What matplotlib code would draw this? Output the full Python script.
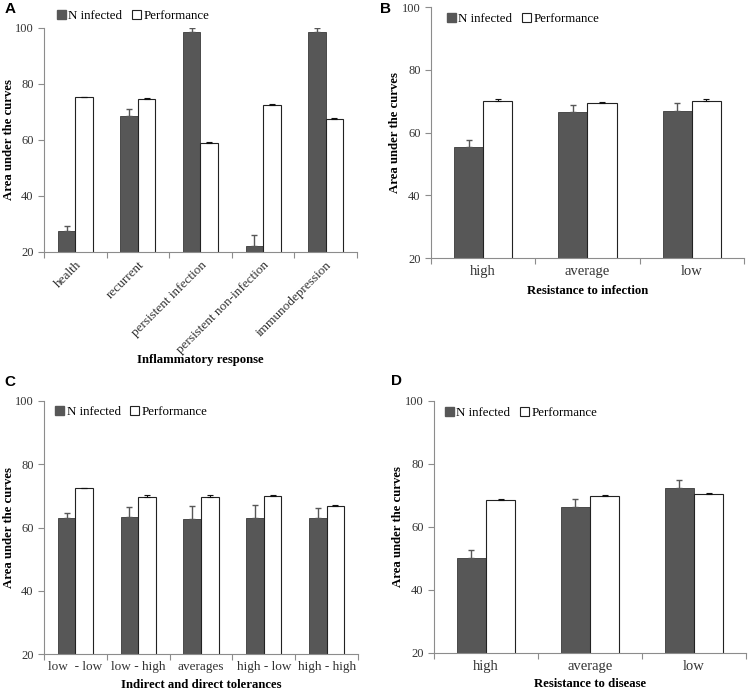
import matplotlib
matplotlib.use('Agg')
import matplotlib.pyplot as plt
import numpy as np
from matplotlib.patches import Patch

plt.rcParams['font.family'] = 'Liberation Serif'

# Painel A - resposta inflamatoria
cats_a = ['health', 'recurrent', 'persistent infection', 'persistent non-infection', 'immunodepression']
ninf_a = [27.6, 68.7, 98.4, 22.0, 98.4]
ninf_a_err = [1.8, 2.5, 1.5, 3.9, 1.5]
perf_a = [75.2, 74.8, 58.8, 72.5, 67.6]
perf_a_err = [0.2, 0.2, 0.4, 0.5, 0.15]

# Painel B - resistencia a infeccao
cats_b = ['high', 'average', 'low']
ninf_b = [55.3, 66.4, 67.0]
ninf_b_err = [2.3, 2.5, 2.5]
perf_b = [70.2, 69.4, 70.2]
perf_b_err = [0.5, 0.2, 0.5]

# Painel C - tolerancias
cats_c = ['low  - low', 'low - high', 'averages', 'high - low', 'high - high']
ninf_c = [63.0, 63.4, 62.8, 63.0, 63.0]
ninf_c_err = [1.7, 3.0, 4.0, 4.1, 3.1]
perf_c = [72.4, 69.8, 69.8, 70.0, 66.7]
perf_c_err = [0.2, 0.4, 0.6, 0.4, 0.3]

# Painel D - resistencia a doenca
cats_d = ['high', 'average', 'low']
ninf_d = [50.2, 66.3, 72.4]
ninf_d_err = [2.5, 2.5, 2.6]
perf_d = [68.7, 69.7, 70.5]
perf_d_err = [0.15, 0.5, 0.4]

COR_N = '#575757'
COR_EIXO = '#8c8c8c'
COR_TXT = '#333333'

fig = plt.figure(figsize=(7.56, 6.94), dpi=100)


def painel(pos, cats, ninf, ninf_err, perf, perf_err, xlabel, letra, letra_xy,
           leg_xy, rot=False, xlab_y=None, tick_fs=10.5, xlab_pad=4, ylab_x=-0.093):
    ax = fig.add_axes(pos)
    x = np.arange(len(cats))
    w = 0.28
    ax.bar(x - w / 2, ninf, w, color=COR_N, edgecolor='#3a3a3a', linewidth=0.6, zorder=2)
    ax.bar(x + w / 2, perf, w, color='white', edgecolor='#222222', linewidth=0.8, zorder=2)
    ax.errorbar(x - w / 2, ninf, yerr=[np.zeros(len(ninf)), ninf_err], fmt='none',
                ecolor=COR_N, elinewidth=1.0, capsize=2.2, capthick=1.0, zorder=3)
    ax.errorbar(x + w / 2, perf, yerr=[np.zeros(len(perf)), perf_err], fmt='none',
                ecolor='#111111', elinewidth=0.8, capsize=2.2, capthick=0.8, zorder=3)
    ax.set_ylim(20, 100)
    ax.set_xlim(-0.5, len(cats) - 0.5)
    ax.set_yticks([20, 40, 60, 80, 100])
    ax.set_xticks(x)
    if rot:
        ax.set_xticklabels(cats, rotation=45, ha='right', rotation_mode='anchor')
    else:
        ax.set_xticklabels(cats)
    ax.set_xticks(np.arange(len(cats) + 1) - 0.5, minor=True)
    ax.tick_params(axis='x', which='major', length=0, labelsize=tick_fs, colors=COR_TXT, pad=5)
    ax.tick_params(axis='x', which='minor', length=4, color=COR_EIXO, width=0.8)
    ax.tick_params(axis='y', length=4, color=COR_EIXO, width=0.8, labelsize=9, labelcolor=COR_TXT)
    for s in ['top', 'right']:
        ax.spines[s].set_visible(False)
    for s in ['left', 'bottom']:
        ax.spines[s].set_color(COR_EIXO)
        ax.spines[s].set_linewidth(0.8)
    ax.set_ylabel('Area under the curves', fontweight='bold', fontsize=9.2)
    ax.yaxis.set_label_coords(ylab_x, 0.5)
    if xlab_y is None:
        ax.set_xlabel(xlabel, fontweight='bold', fontsize=9.2, labelpad=xlab_pad)
    else:
        ax.text(0.5, xlab_y, xlabel, transform=ax.transAxes, ha='center', va='center',
                fontweight='bold', fontsize=9.2)
    handles = [Patch(facecolor=COR_N, edgecolor=COR_N, label='N infected'),
               Patch(facecolor='white', edgecolor='#222222', linewidth=0.8, label='Performance')]
    ax.legend(handles=handles, loc='center left', bbox_to_anchor=leg_xy, ncol=2,
              frameon=False, fontsize=9.3, handlelength=0.7, handleheight=0.7,
              handletextpad=0.2, columnspacing=0.75, borderaxespad=0, borderpad=0)
    fig.text(letra_xy[0], letra_xy[1], letra, fontfamily='Liberation Sans',
             fontweight='bold', fontsize=11, ha='center', va='center')
    return ax


painel([0.0582, 0.6369, 0.414, 0.3228], cats_a, ninf_a, ninf_a_err, perf_a, perf_a_err,
       'Inflammatory response', 'A', (10 / 756, 1 - 9 / 694), (0.04, 1.054), rot=True,
       xlab_y=-0.484, tick_fs=9.5)
painel([0.5701, 0.6282, 0.414, 0.3617], cats_b, ninf_b, ninf_b_err, perf_b, perf_b_err,
       'Resistance to infection', 'B', (385 / 756, 1 - 9 / 694), (0.05, 0.952), xlab_pad=5,
       ylab_x=-0.096)
painel([0.0582, 0.0576, 0.4153, 0.3646], cats_c, ninf_c, ninf_c_err, perf_c, perf_c_err,
       'Indirect and direct tolerances', 'C', (10 / 756, 1 - 382 / 694), (0.035, 0.957),
       tick_fs=9.5, xlab_pad=4)
painel([0.574, 0.0591, 0.4127, 0.3631], cats_d, ninf_d, ninf_d_err, perf_d, perf_d_err,
       'Resistance to disease', 'D', (397 / 756, 1 - 381 / 694), (0.035, 0.952), xlab_pad=4,
       ylab_x=-0.096)

plt.savefig('out.png', dpi=100)
plt.close()
